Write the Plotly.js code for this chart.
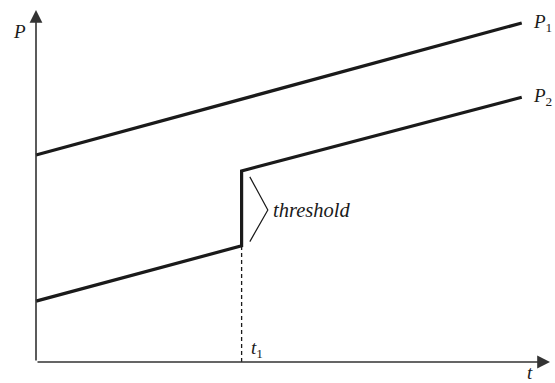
<!DOCTYPE html>
<html>
<head>
<meta charset="utf-8">
<script src="https://cdn.plot.ly/plotly-3.0.1.min.js"></script>
<style>
  html, body { margin: 0; padding: 0; background: #fff; }
  #chart { width: 555px; height: 383px; }
</style>
</head>
<body>
<div id="chart"></div>
<script>
// P1: straight rising line
const p1Time = [0, 9.45];
const p1Value = [5.88, 9.63];

// P2: rises, jumps up at t1 by the threshold, then keeps rising
const p2Time = [0, 4, 4, 9.45];
const p2Value = [1.73, 3.30, 5.43, 7.52];

const t1 = 4;

// bracket marking the threshold jump
const bracketTime = [4.16, 4.51, 4.16];
const bracketValue = [5.26, 4.32, 3.42];

const serif = "Liberation Serif";
const ink = "#1a1a1a";

const traces = [
    {
        x: p1Time, y: p1Value, mode: "lines", type: "scatter",
        line: { color: ink, width: 3.2 }, hoverinfo: "skip"
    },
    {
        x: p2Time, y: p2Value, mode: "lines", type: "scatter",
        line: { color: ink, width: 3.2 }, hoverinfo: "skip"
    },
    {
        x: [t1, t1], y: [0, p2Value[1]], mode: "lines", type: "scatter",
        line: { color: ink, width: 1.3, dash: "4px,3px" }, hoverinfo: "skip"
    },
    {
        x: bracketTime, y: bracketValue, mode: "lines", type: "scatter",
        line: { color: ink, width: 1.2 }, hoverinfo: "skip"
    }
];

const label = (text, x, y, xanchor, size) => ({
    text: text, x: x, y: y, xref: "x", yref: "y",
    xanchor: xanchor || "center", yanchor: "middle",
    showarrow: false, font: { family: serif, size: size || 19, color: ink }
});

const arrow = (x, y) => ({
    text: "", x: x, y: y, ax: 0, ay: 0, xref: "x", yref: "y", axref: "x", ayref: "y",
    showarrow: true, arrowhead: 2, arrowsize: 1.6, arrowwidth: 1.6, arrowcolor: "#333", standoff: 0
});

const layout = {
    width: 555,
    height: 383,
    margin: { t: 0, l: 0, r: 0, b: 0 },
    paper_bgcolor: "#fff",
    plot_bgcolor: "#fff",
    showlegend: false,
    font: { family: serif },
    xaxis: { range: [-0.7004, 10.097], visible: false, fixedrange: true },
    yaxis: { range: [-0.597, 10.284], visible: false, fixedrange: true },
    annotations: [
        arrow(10, 0),
        arrow(0, 10),
        label("<i>P</i>", -0.33, 9.40),
        label("<i>P</i><sub>1</sub>", 9.63, p1Value[1], "left"),
        label("<i>P</i><sub>2</sub>", 9.63, p2Value[3], "left"),
        label("<i>t</i><sub>1</sub>", 4.30, 0.36),
        label("<i>t</i>", 9.61, -0.30),
        label("<i>threshold</i>", 4.58, 4.32, "left", 20.5)
    ]
};

Plotly.newPlot("chart", traces, layout, { displayModeBar: false, staticPlot: true });
</script>
</body>
</html>
